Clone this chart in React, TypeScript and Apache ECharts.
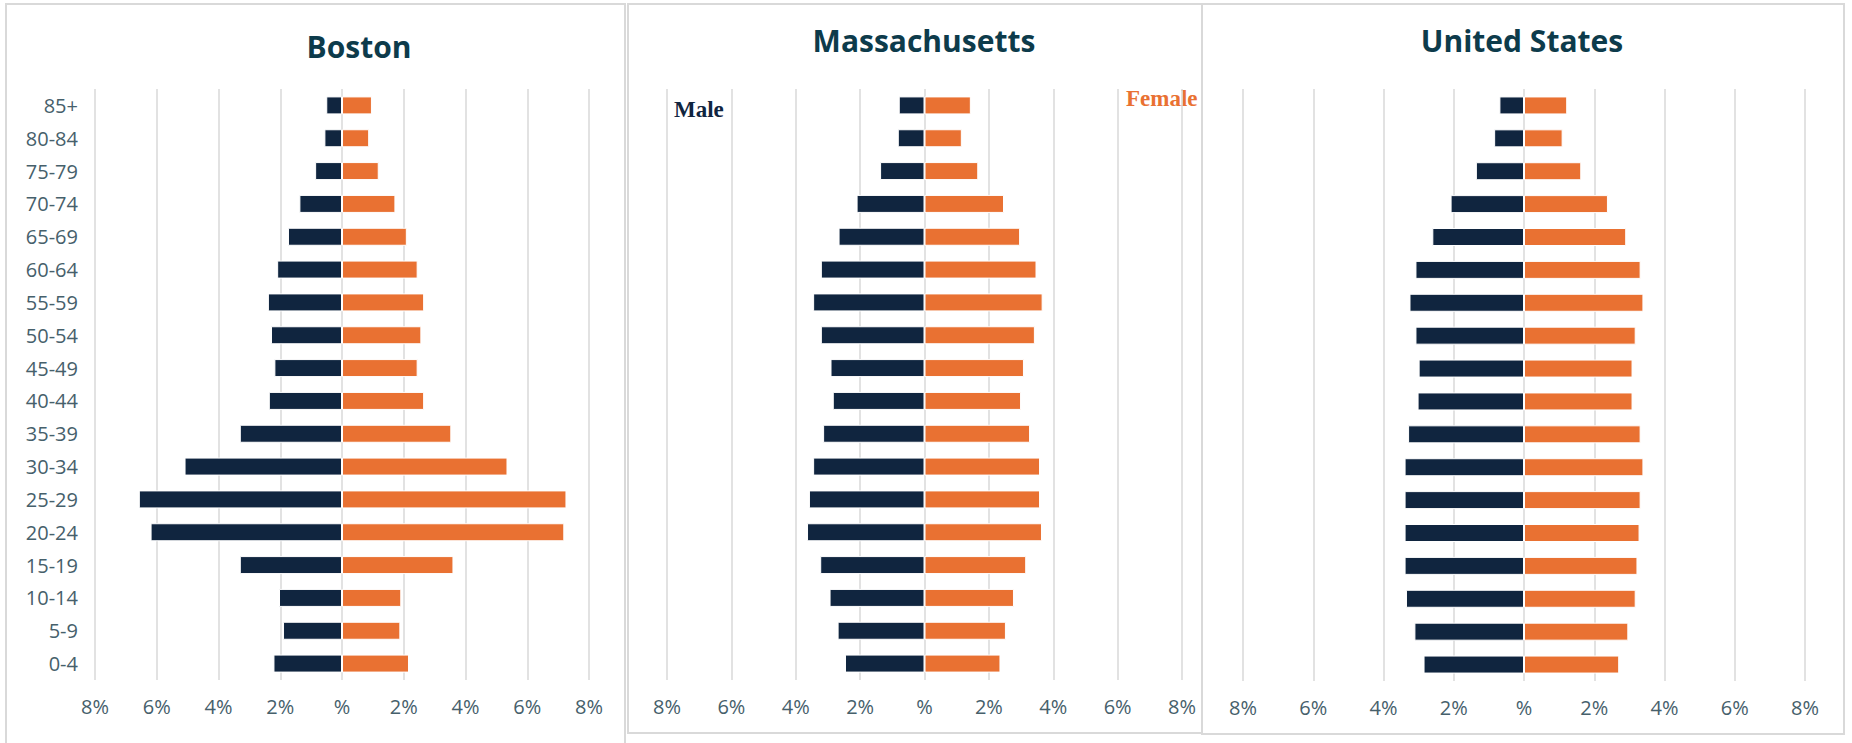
import React, { useEffect, useRef } from "react";
import * as echarts from "echarts";

const ageGroups = ["0-4", "5-9", "10-14", "15-19", "20-24", "25-29", "30-34", "35-39", "40-44", "45-49", "50-54", "55-59", "60-64", "65-69", "70-74", "75-79", "80-84", "85+"];

const bostonMale = [2.22, 1.91, 2.04, 3.31, 6.2, 6.58, 5.1, 3.31, 2.37, 2.19, 2.3, 2.4, 2.1, 1.75, 1.38, 0.87, 0.57, 0.51];
const bostonFemale = [2.17, 1.89, 1.92, 3.61, 7.2, 7.27, 5.36, 3.54, 2.66, 2.45, 2.57, 2.66, 2.45, 2.1, 1.73, 1.19, 0.88, 0.97];

const massMale = [2.47, 2.7, 2.95, 3.24, 3.65, 3.59, 3.46, 3.15, 2.85, 2.92, 3.22, 3.46, 3.22, 2.67, 2.11, 1.38, 0.83, 0.8];
const massFemale = [2.36, 2.53, 2.78, 3.16, 3.65, 3.59, 3.59, 3.28, 3.0, 3.09, 3.43, 3.67, 3.48, 2.97, 2.47, 1.67, 1.16, 1.44];

const usMale = [2.86, 3.12, 3.36, 3.4, 3.4, 3.4, 3.4, 3.3, 3.03, 3.0, 3.09, 3.26, 3.09, 2.61, 2.09, 1.37, 0.85, 0.7];
const usFemale = [2.71, 2.97, 3.18, 3.23, 3.29, 3.32, 3.4, 3.32, 3.09, 3.09, 3.18, 3.4, 3.32, 2.91, 2.39, 1.63, 1.1, 1.23];

const panelTitles = ["Boston", "Massachusetts", "United States"];
const genderLabels = ["Male", "Female"];

const NAVY = "#10253f";
const ORANGE = "#e97132";
const TITLE = "#0d3b4b";
const LABEL = "#46606b";
const GRID = "#d9d9d9";
const FONT = "'Open Sans', 'Noto Sans', sans-serif";

export default function App() {
  const ref = useRef<HTMLDivElement>(null);

  useEffect(() => {
    document.body.style.margin = "0";
    const chart = echarts.init(ref.current!, null, { renderer: "svg" });

    const grids = [
      { left: 95, width: 494, top: 89, height: 591 },
      { left: 667, width: 515, top: 89, height: 591 },
      { left: 1243, width: 562, top: 89, height: 592 },
    ];
    const datasets = [
      [bostonMale, bostonFemale],
      [massMale, massFemale],
      [usMale, usFemale],
    ];
    const titleX = [359, 924, 1522];
    const titleY = [46, 40, 40];

    const xAxes = grids.map((_, i) => ({
      type: "value",
      gridIndex: i,
      min: -8,
      max: 8,
      interval: 2,
      axisLine: { show: false },
      axisTick: { show: false },
      splitLine: { show: true, lineStyle: { color: GRID, width: 1.5 } },
      axisLabel: {
        margin: 16,
        fontSize: 20,
        fontFamily: FONT,
        color: LABEL,
        formatter: (v: number) => (v === 0 ? "%" : Math.abs(v) + "%"),
      },
    }));

    const yAxes = grids.map((_, i) => ({
      type: "category",
      gridIndex: i,
      data: ageGroups,
      axisLine: { show: false },
      axisTick: { show: false },
      splitLine: { show: false },
      axisLabel: {
        show: i === 0,
        margin: 17,
        fontSize: 20,
        fontFamily: FONT,
        color: LABEL,
      },
    }));

    const series: any[] = [];
    datasets.forEach(([male, female], i) => {
      series.push({
        type: "bar",
        name: "Male",
        xAxisIndex: i,
        yAxisIndex: i,
        data: male.map((v) => -v),
        barWidth: 18,
        barGap: "-100%",
        itemStyle: { color: NAVY, borderColor: "#ffffff", borderWidth: 1 },
      });
      series.push({
        type: "bar",
        name: "Female",
        xAxisIndex: i,
        yAxisIndex: i,
        data: female,
        barWidth: 18,
        barGap: "-100%",
        itemStyle: { color: ORANGE, borderColor: "#ffffff", borderWidth: 1 },
      });
    });

    const graphic: any[] = [
      { type: "rect", shape: { x: 6, y: 4, width: 619, height: 780 }, style: { fill: "none", stroke: GRID, lineWidth: 2 }, silent: true },
      { type: "rect", shape: { x: 628, y: 4, width: 574, height: 729 }, style: { fill: "none", stroke: GRID, lineWidth: 2 }, silent: true },
      { type: "rect", shape: { x: 1202, y: 4, width: 642, height: 730 }, style: { fill: "none", stroke: GRID, lineWidth: 2 }, silent: true },
    ];
    panelTitles.forEach((t, i) => {
      graphic.push({
        type: "text",
        x: titleX[i],
        y: titleY[i],
        style: {
          text: t,
          fill: TITLE,
          font: `bold 30px ${FONT}`,
          textAlign: "center",
          textVerticalAlign: "middle",
        },
      });
    });
    graphic.push({
      type: "text",
      x: 674,
      y: 109,
      style: {
        text: genderLabels[0],
        fill: NAVY,
        font: "bold 23px 'Liberation Serif', serif",
        textAlign: "left",
        textVerticalAlign: "middle",
      },
    });
    graphic.push({
      type: "text",
      x: 1126,
      y: 98,
      style: {
        text: genderLabels[1],
        fill: ORANGE,
        font: "bold 23px 'Liberation Serif', serif",
        textAlign: "left",
        textVerticalAlign: "middle",
      },
    });

    chart.setOption({
      animation: false,
      backgroundColor: "#ffffff",
      grid: grids,
      xAxis: xAxes,
      yAxis: yAxes,
      series,
      graphic,
    });

    return () => chart.dispose();
  }, []);

  return <div ref={ref} style={{ position: "fixed", left: 0, top: 0, width: 1852, height: 743 }} />;
}
